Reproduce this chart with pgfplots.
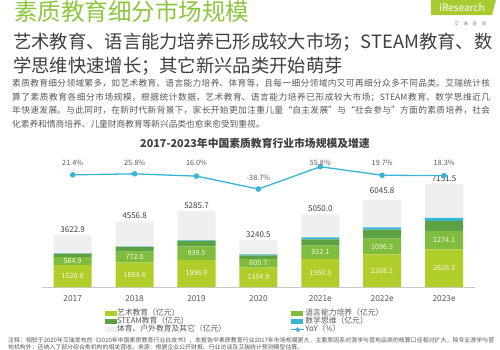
\documentclass[border=0pt]{standalone}
\usepackage{fontspec}
\setmainfont{Noto Sans CJK SC}
\usepackage{pgfplots}
\pgfplotsset{compat=1.18}
\XeTeXlinebreaklocale "zh"
\XeTeXlinebreakskip=0pt plus 1.5pt
\definecolor{cArt}{HTML}{B0CE2A}
\definecolor{cLang}{HTML}{80BC3E}
\definecolor{cSteam}{HTML}{5CA242}
\definecolor{cMath}{HTML}{36B6D6}
\definecolor{cOther}{HTML}{EFEFEF}
\definecolor{cLine}{HTML}{3AB4D4}
\definecolor{cHead}{HTML}{8DC63F}
\definecolor{cText}{HTML}{404040}
\definecolor{cGray}{HTML}{595959}
\definecolor{cAxis}{HTML}{C8C8C8}
\definecolor{cIn}{HTML}{F4F7E4}
\definecolor{cLogo}{HTML}{A8CB32}
\begin{document}
\begin{tikzpicture}[x=1pt,y=1pt]
\useasboundingbox (0pt,0pt) rectangle (500pt,-349pt);
\fill[white] (0pt,0pt) rectangle (500pt,-349pt);
% logo
\fill[cLogo] (431pt,0pt) -- (496pt,0pt) -- (492pt,-15pt) -- (431pt,-15pt) -- cycle;
\node[inner sep=0, text=white, font=\fontsize{10}{10}\selectfont] at (462pt,-7.5pt) {iResearch};
\node[inner sep=0, text=gray, font=\fontsize{4.5}{4.5}\selectfont] at (470pt,-24pt) {艾\quad 瑞\quad 咨\quad 询};
% header
\node[anchor=base west, inner sep=0, text=cHead, font=\fontsize{23.5}{23.5}\selectfont] at (14pt,-20.5pt) {素质教育细分市场规模};
\node[anchor=base west, inner sep=0, text=cText, font=\fontsize{18.3}{18.3}\selectfont] at (13pt,-48pt) {艺术教育、语言能力培养已形成较大市场；STEAM教育、数};
\node[anchor=base west, inner sep=0, text=cText, font=\fontsize{18.3}{18.3}\selectfont] at (13pt,-72pt) {学思维快速增长；其它新兴品类开始萌芽};
\node[anchor=north west, inner sep=0, text width=478pt, align=justify, text=cGray, font=\fontsize{8.7}{13.5}\selectfont] at (12pt,-79pt)
{素质教育细分领域繁多，如艺术教育、语言能力培养、体育等，且每一细分领域内又可再细分众多不同品类。艾瑞统计核\linebreak
算了素质教育各细分市场规模，根据统计数据，艺术教育、语言能力培养已形成较大市场；STEAM教育、数学思维近几\linebreak
年快速发展。与此同时，在新时代新背景下，家长开始更加注重儿童“自主发展”与“社会参与”方面的素质培养，社会\linebreak
化素养和情商培养、儿童财商教育等新兴品类也愈来愈受到重视。};
% chart title
\node[inner sep=0, text=cText, font=\fontsize{10.8}{10.8}\selectfont\bfseries] at (255pt,-143.3pt) {2017-2023年中国素质教育行业市场规模及增速};
% bars
\begin{axis}[at={(41.75pt,-287pt)}, anchor=south west, scale only axis,
  width=433.3pt, height=132pt, xmin=-0.5, xmax=6.5, ymin=0, ymax=9186,
  ybar stacked, bar width=38pt, clip=false,
  axis y line=none, axis x line*=bottom,
  x axis line style={draw=cAxis, line width=0.9pt, -},
  xtick={0,...,6}, xticklabels={2017,2018,2019,2020,2021e,2022e,2023e},
  xtick style={draw=none}, major tick length=0pt,
  xticklabel style={text=cGray, font=\fontsize{8.3}{8.3}\selectfont, yshift=-4.5pt}]
\addplot[fill=cArt, draw=none] coordinates {(0,1520.8) (1,1694.6) (2,1896.9) (3,1354.9) (4,1950.5) (5,2268.2) (6,2626.3)};
\addplot[fill=cLang, draw=none] coordinates {(0,564.9) (1,772.0) (2,939.5) (3,605.7) (4,922.1) (5,1096.5) (6,1274.1)};
\addplot[fill=cSteam, draw=none] coordinates {(0,240) (1,320) (2,380) (3,240) (4,440) (5,630) (6,700)};
\addplot[fill=cMath, draw=none] coordinates {(0,20) (1,25) (2,30) (3,70) (4,140) (5,150) (6,210)};
\addplot[fill=cOther, draw=none] coordinates {(0,1277.2) (1,1745.2) (2,2039.3) (3,969.9) (4,1597.4) (5,1901.1) (6,2341.1)};
\end{axis}
% value labels
\begin{axis}[at={(41.75pt,-287pt)}, anchor=south west, scale only axis,
  width=433.3pt, height=132pt, xmin=-0.5, xmax=6.5, ymin=0, ymax=9186,
  hide axis, clip=false]
\addplot[draw=none, mark=none, nodes near coords, point meta=explicit symbolic,
  every node near coord/.append style={anchor=center, inner sep=0, text=cIn, font=\fontsize{7.2}{7.2}\selectfont}]
  coordinates {(0,760.4) [1520.8] (1,847.3) [1694.6] (2,948.45) [1896.9] (3,677.45) [1354.9] (4,975.25) [1950.5] (5,1134.1) [2268.2] (6,1313.15) [2626.3]};
\addplot[draw=none, mark=none, nodes near coords, point meta=explicit symbolic,
  every node near coord/.append style={anchor=center, inner sep=0, text=cIn, font=\fontsize{7.2}{7.2}\selectfont}]
  coordinates {(0,1803.25) [564.9] (1,2080.6) [772.0] (2,2366.65) [939.5] (3,1657.75) [605.7] (4,2411.55) [922.1] (5,2816.45) [1096.5] (6,3263.35) [1274.1]};
\addplot[draw=none, mark=none, nodes near coords, point meta=explicit symbolic,
  every node near coord/.append style={anchor=south, inner sep=0, yshift=2.6pt, text=cText, font=\fontsize{8}{8}\selectfont}]
  coordinates {(0,3622.9) [3622.9] (1,4556.8) [4556.8] (2,5285.7) [5285.7] (3,3240.5) [3240.5] (4,5050.0) [5050.0] (5,6280) [6045.8] (6,7110) [7151.5]};
\end{axis}
% YoY line and legend
\begin{axis}[at={(41.75pt,-287pt)}, anchor=south west, scale only axis,
  width=433.3pt, height=132pt, xmin=-0.5, xmax=6.5, ymin=-453.8, ymax=105.5,
  hide axis, clip=false,
  legend columns=2, legend cell align=left,
  legend style={at={(0.146,-0.166)}, anchor=north west, draw=none, fill=none,
    inner sep=0pt, outer sep=0pt, row sep=0pt,
    font=\fontsize{7.8}{7.8}\selectfont, text=cGray,
    nodes={inner xsep=0.6pt, inner ysep=0.5pt, text height=5.9pt, text depth=1.4pt},
    /tikz/every even column/.append style={column sep=64pt}}]
\addlegendimage{legend image code/.code={\fill[cArt] (0pt,-2pt) rectangle (11pt,2pt);}}
\addlegendentry{艺术教育（亿元）}
\addlegendimage{legend image code/.code={\fill[cLang] (0pt,-2pt) rectangle (11pt,2pt);}}
\addlegendentry{语言能力培养（亿元）}
\addlegendimage{legend image code/.code={\fill[cSteam] (0pt,-2pt) rectangle (11pt,2pt);}}
\addlegendentry{STEAM教育（亿元）}
\addlegendimage{legend image code/.code={\fill[cMath] (0pt,-2pt) rectangle (11pt,2pt);}}
\addlegendentry{数学思维（亿元）}
\addlegendimage{legend image code/.code={\fill[cOther] (0pt,-2pt) rectangle (11pt,2pt);}}
\addlegendentry{体育、户外教育及其它（亿元）}
\addplot[cLine, line width=1.3pt, mark=*, mark size=2.1pt, mark options={fill=cLine, draw=cLine},
  legend image code/.code={\draw[cLine, line width=1pt] (0pt,0pt) -- (13pt,0pt); \fill[cLine] (6.5pt,0pt) circle (1.6pt);}]
  coordinates {(0,21.4) (1,25.8) (2,16.0) (3,-38.7) (4,55.8) (5,19.7) (6,18.3)};
\addlegendentry{YoY（\%）}
\addplot[forget plot, draw=none, mark=none, nodes near coords, point meta=explicit symbolic,
  every node near coord/.append style={anchor=center, inner sep=0, text=cGray, font=\fontsize{7.3}{7.3}\selectfont}]
  coordinates {(0,70.5) [21.4\%] (1,72.5) [25.8\%] (2,70.5) [16.0\%] (3,9.3) [-38.7\%] (4,70.5) [55.8\%] (5,70.5) [19.7\%] (6,70.5) [18.3\%]};
\end{axis}
% footnote
\node[anchor=north west, inner sep=0, text width=486pt, align=justify, text=cGray, font=\fontsize{5.9}{6.8}\selectfont] at (8pt,-337pt)
{注释：相较于2020年艾瑞发布的《2020年中国素质教育行业白皮书》，本报告中素质教育行业2017年市场规模更大，主要原因系对游学与营地品类的核算口径相对扩大，除专业游学与营地机构外，还纳入了部分综合类机构的相关营收。来源：根据企业公开财报、行业访谈及艾瑞统计预测模型估算。};
\end{tikzpicture}
\end{document}
